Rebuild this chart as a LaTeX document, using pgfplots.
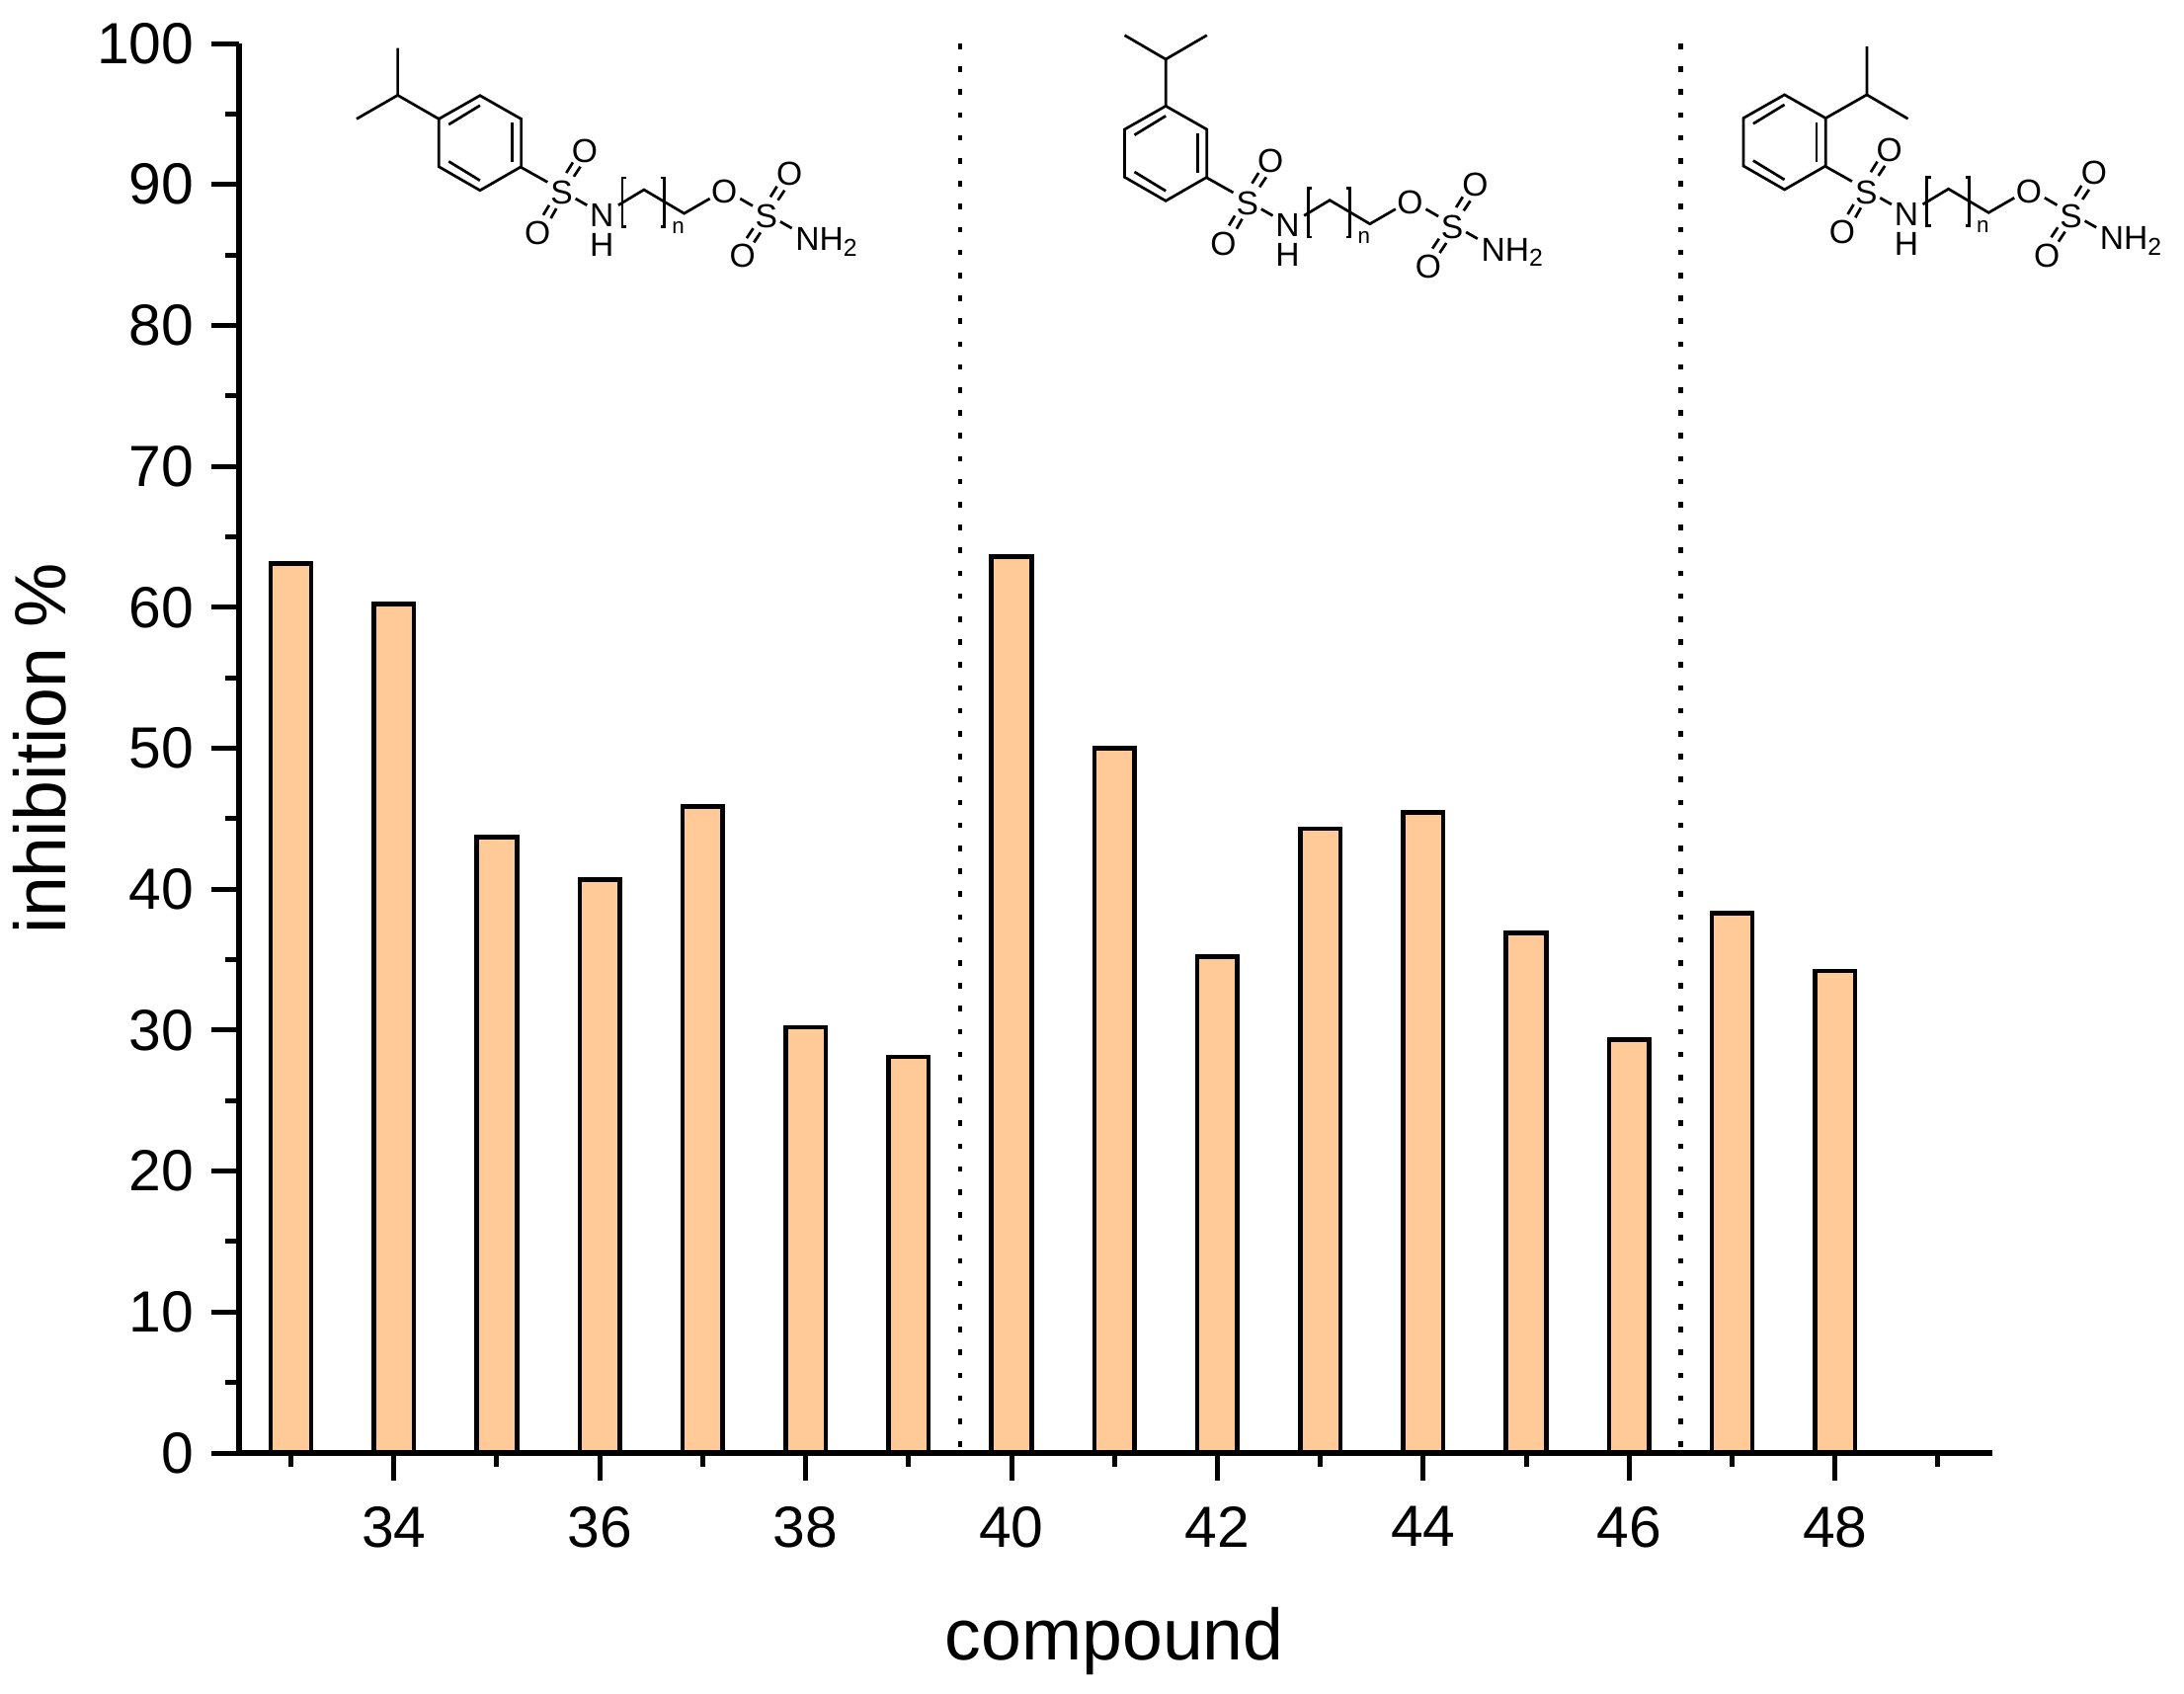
\documentclass[border=0pt]{standalone}
\usepackage{fontspec}
\setmainfont{Liberation Sans}
\usepackage{pgfplots}
\pgfplotsset{compat=1.18}
\definecolor{barfill}{HTML}{FFC998}

% everything right of the aromatic ring, coordinates relative to the first S
\newcommand{\tailpart}{%
  \draw (-123,-78) -- (-43,-33);
  \draw (14,-61) -- (34,-93);
  \draw (37,-50) -- (57,-80);
  \draw (-56,67) -- (-38,37);
  \draw (-33,77) -- (-16,47);
  \draw (42,17) -- (77,37);
  \draw (172,37) -- (250,-10) -- (372,62) -- (450,17);
  \draw (197,-46) -- (184,-46) -- (184,102) -- (197,102);
  \draw (302,-46) -- (312,-46) -- (312,102) -- (302,102);
  \draw (542,17) -- (580,39);
  \draw (634,12) -- (654,-20);
  \draw (657,22) -- (677,-8);
  \draw (562,137) -- (582,107);
  \draw (584,150) -- (604,120);
  \draw (664,87) -- (699,107);
  \node[atom] at (0,0) {S};
  \node[atom] at (70,-128) {O};
  \node[atom] at (-73,122) {O};
  \node[atom] at (122,67) {N};
  \node[atom] at (122,157) {H};
  \node[inner sep=0pt,font=\fontsize{5.6}{6}\selectfont] at (354,104) {n};
  \node[atom] at (494,-3) {O};
  \node[atom] at (622,72) {S};
  \node[atom] at (692,-58) {O};
  \node[atom] at (549,192) {O};
  \node[atom,anchor=base west] at (706,175) {NH\raisebox{-1.4pt}{\fontsize{6.2}{7}\selectfont 2}};
}
\newcommand{\ringpart}{%
  \draw (-248,-296) -- (-123,-225) -- (-123,-80) -- (-248,-8) -- (-373,-80) -- (-373,-225) -- cycle;
  \draw (-343,-208) -- (-248,-266);
  \draw (-151,-213) -- (-151,-93);
  \draw (-248,-38) -- (-343,-96);
}
\tikzset{
  chem/.style={x=0.08333pt,y=-0.08333pt,line width=0.68pt,line cap=butt},
  atom/.style={inner sep=0pt,font=\fontsize{8.4}{9}\selectfont}
}

\begin{document}
\begin{tikzpicture}
\path[use as bounding box] (0,0) rectangle (552.75pt,-428.5pt);
\begin{axis}[
    at={(60.6pt,-367.75pt)},
    anchor=south west,
    scale only axis,
    width=442.9pt,
    height=356.75pt,
    axis lines=left,
    axis line style={-,line width=1.5pt,black},
    x axis line style={shorten >=-0.7pt},
    axis on top,
    clip=false,
    xmin=32.5, xmax=49.5,
    ymin=0, ymax=100,
    xtick={34,36,...,48},
    minor xtick={33,35,...,49},
    ytick={0,10,...,100},
    minor ytick={5,15,...,95},
    tick align=outside,
    major tick length=7pt,
    minor tick length=3.5pt,
    major tick style={line width=1.25pt,black},
    minor tick style={line width=1.25pt,black},
    /pgf/number format/assume math mode=true,
    tick label style={font=\fontsize{14.7}{16}\selectfont},
    xticklabel style={yshift=-3pt},
    yticklabel style={xshift=-1pt},
    every axis x label/.style={at={(axis description cs:0.5,0)},anchor=base,yshift=-52.25pt,font=\fontsize{18.35}{20}\selectfont},
    every axis y label/.style={at={(axis description cs:0,0.5)},xshift=-44pt,rotate=90,anchor=base,font=\fontsize{18.35}{20}\selectfont},
    xlabel={compound},
    ylabel={inhibition \%},
]
\addplot[ybar, bar width=0.39, fill=barfill, draw=black, line width=1.15pt] coordinates {
    (33,63.1) (34,60.25) (35,43.7) (36,40.7) (37,45.85) (38,30.2) (39,28.1) (40,63.6)
    (41,50.0) (42,35.2) (43,44.3) (44,45.45) (45,36.9) (46,29.35) (47,38.3) (48,34.2)
};
\addplot[black, line width=1.1pt, dash pattern=on 1.4pt off 4.4pt] coordinates {(39.5,100) (39.5,0)};
\addplot[black, line width=1.1pt, dash pattern=on 1.4pt off 4.4pt] coordinates {(46.5,100) (46.5,0)};
\end{axis}

% para isomer
\begin{scope}[shift={(142.15pt,-48.85pt)},chem]
  \ringpart
  \draw (-373,-225) -- (-498,-297) -- (-498,-440);
  \draw (-498,-297) -- (-623,-225);
  \tailpart
\end{scope}
% meta isomer
\begin{scope}[shift={(315.7pt,-51.5pt)},chem]
  \ringpart
  \draw (-248,-296) -- (-248,-438) -- (-373,-511);
  \draw (-248,-438) -- (-123,-511);
  \tailpart
\end{scope}
% ortho isomer
\begin{scope}[shift={(472.3pt,-48.65pt)},chem]
  \ringpart
  \draw (-123,-225) -- (2,-296) -- (2,-443);
  \draw (2,-296) -- (127,-223);
  \tailpart
\end{scope}
\end{tikzpicture}
\end{document}
